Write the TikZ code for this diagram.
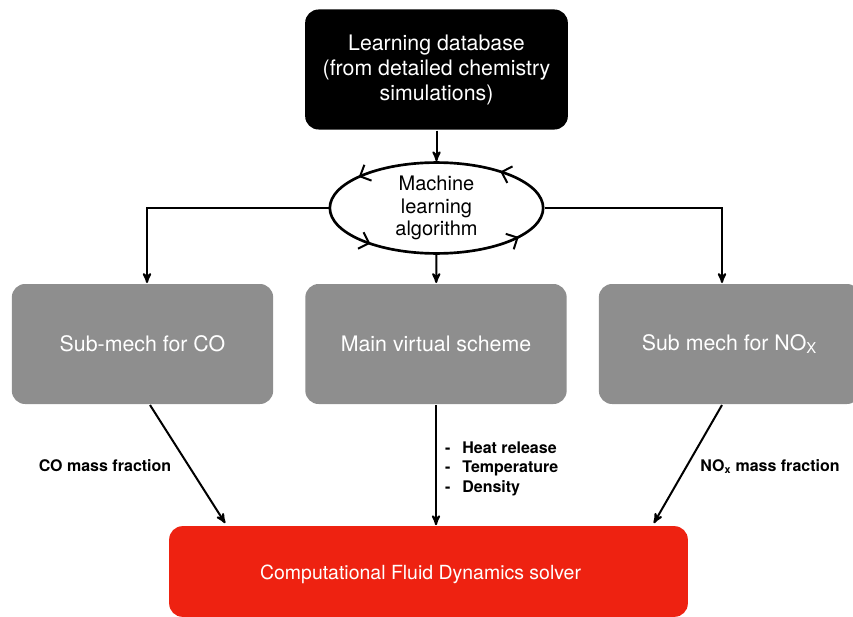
\documentclass[tikz,border=0pt]{standalone}
\usepackage{fontspec}
\setmainfont{TeX Gyre Heros}
\usepackage{tikz}
\usetikzlibrary{arrows,arrows.meta,shapes,decorations.markings,calc,positioning}

\definecolor{boxgray}{HTML}{8E8E8E}
\definecolor{solverred}{HTML}{EE2211}

\begin{document}
\begin{tikzpicture}[x=0.75pt,y=-0.75pt,>=stealth',line width=1.5pt]
    % pixel grid of the original slide, y pointing down
    \tikzstyle{database}=[rectangle,rounded corners=10pt,fill=black,text=white,
    minimum width=197pt,minimum height=90pt,align=center,font=\fontsize{16}{18.75}\selectfont]
    \tikzstyle{submech}=[rectangle,rounded corners=10pt,fill=boxgray,text=white,
    minimum width=196pt,minimum height=90pt,font=\fontsize{16}{19}\selectfont]
    \tikzstyle{solver}=[rectangle,rounded corners=10pt,fill=solverred,text=white,
    minimum width=389pt,minimum height=68pt,font=\fontsize{14.6}{17}\selectfont]
    \tikzstyle{learner}=[ellipse,draw,line width=2pt,fill=white,minimum width=160pt,
    minimum height=68pt,inner sep=0pt,align=center,font=\fontsize{15}{17}\selectfont]
    \tikzstyle{cycle}=[postaction={decorate,decoration={markings,
      mark=at position 0.12 with {\arrow[line width=1.5pt]{Straight Barb[length=6.5pt,width=13pt]}},
      mark=at position 0.41 with {\arrow[line width=1.5pt]{Straight Barb[length=6.5pt,width=13pt]}},
      mark=at position 0.615 with {\arrow[line width=1.5pt]{Straight Barb[length=6.5pt,width=13pt]}},
      mark=at position 0.92 with {\arrow[line width=1.5pt]{Straight Barb[length=6.5pt,width=13pt]}}}}]
    \tikzstyle{flowlabel}=[font=\bfseries\fontsize{12}{14.6}\selectfont,align=left,inner sep=0pt]

    \useasboundingbox (0,0) rectangle (853,617);

    \node [database] (db) at (436.5,69.5) {Learning database\\(from detailed chemistry\\simulations)};
    \node [learner,cycle] (mla) at (436.5,208) {Machine\\learning\\algorithm};

    \node [submech] (co)   at (142.5,344) {Sub-mech for CO};
    \node [submech] (main) at (436,344)   {Main virtual scheme};
    \node [submech] (nox)  at (729.5,344) {Sub mech for NO\textsubscript{X}};

    \node [solver] (cfd) at (428.5,571.5)
      {\raisebox{-2.5pt}[\height][\depth]{\hspace*{-12pt}Computational Fluid Dynamics solver}};

    \draw [->] (db) -- (mla);
    \draw [->] (mla.west) -| ($(co.north)+(4.5,0)$);
    \draw [->] (mla) -- (main);
    \draw [->] (mla.east) -| ($(nox.north)+(-7.5,0)$);

    \draw [->] ($(co.south)+(7.5,0)$) -- ($(cfd.north west)+(57,-2)$);
    \draw [->] (main.south) -- (main.south |- cfd.north);
    \draw [->] ($(nox.south)+(-7.5,0)$) -- ($(cfd.north east)+(-35,-2)$);

    \node [flowlabel] (colabel) at (105,466) {CO mass fraction};
    \node [flowlabel,anchor=west] (mainlabel) at (444,468.5)
      {-\hspace{9pt}Heat release\\-\hspace{9pt}Temperature\\-\hspace{9pt}Density};
    \node [flowlabel] (noxlabel) at (770,466.5) {NO\textsubscript{x} mass fraction};

\end{tikzpicture}
\end{document}
